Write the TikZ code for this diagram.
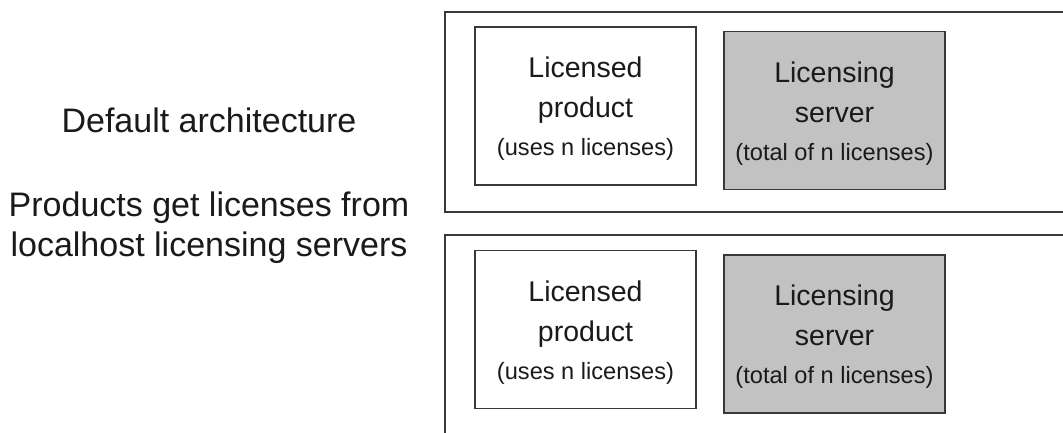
\documentclass[tikz,border=0pt]{standalone}
\usepackage{fontspec}
\setmainfont{Liberation Sans}
\definecolor{edge}{HTML}{383838}
\definecolor{ink}{HTML}{1A1A1A}
\definecolor{serverfill}{HTML}{C2C2C2}
% smaller type for the licence counts
\newcommand\countfont{\fontsize{23.6}{28}\selectfont}
% extra head room above the first line of a box label
\newcommand\headroom{\rule{0pt}{26.5pt}}
\begin{document}
\begin{tikzpicture}[x=1pt,y=-1pt,
  hostbox/.style={draw=edge, line width=1.8pt, minimum width=630pt, inner sep=0pt},
  unit/.style={draw=edge, line width=1.8pt, minimum width=221pt, minimum height=158pt,
    inner sep=0pt, align=center, text=ink, font=\fontsize{28.5}{40}\selectfont},
  product/.style={unit, fill=white},
  server/.style={unit, fill=serverfill},
  caption/.style={text=ink, align=center, inner sep=0pt, font=\fontsize{34}{40}\selectfont}]
\useasboundingbox (0,0) rectangle (1063,433);
\clip (0,0) rectangle (1063,433);

% captions on the left
\node[caption, anchor=base] (deflabel) at (209,133) {Default architecture};
\node[caption, anchor=center] (desclabel) at (209,228) {Products get licenses from\\localhost licensing servers};

% two hosts, each running a product and its own licensing server
\node[hostbox, minimum height=200pt] (hostA) at (760,112) {};
\node[hostbox, minimum height=220pt] (hostB) at (760,345) {};

\node[product] (prodA) at (585.5,106) {\headroom Licensed\\product\\[-2pt]{\countfont (uses n licenses)}};
\node[server]  (servA) at (834.5,110.5) {\headroom Licensing\\server\\[-2pt]{\countfont (total of n licenses)}};

\node[product] (prodB) at (585.5,329.5) {\headroom Licensed\\product\\[-2pt]{\countfont (uses n licenses)}};
\node[server]  (servB) at (834.5,334) {\headroom Licensing\\server\\[-2pt]{\countfont (total of n licenses)}};
\end{tikzpicture}
\end{document}
